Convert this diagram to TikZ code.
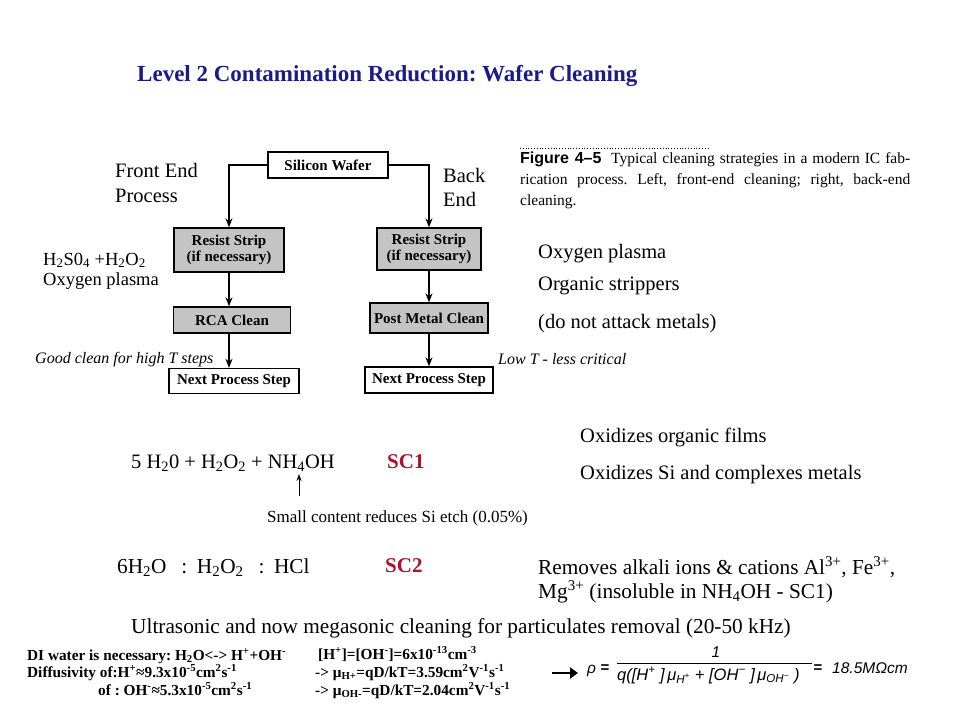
\documentclass[tikz,border=0pt]{standalone}
\usepackage{fontspec}
\setmainfont{Liberation Serif}
\newfontfamily\arialf{Liberation Sans}
\usetikzlibrary{arrows.meta}
\definecolor{titleblue}{RGB}{26,26,140}
\definecolor{scred}{RGB}{176,16,40}
\definecolor{boxgray}{RGB}{196,196,196}
\newcommand\fsz[2]{\fontsize{#1}{#2}\selectfont}
\frenchspacing
\begin{document}
\begin{tikzpicture}[x=1pt,y=-1pt,
  txt/.style={anchor=base west, inner sep=0pt},
  box/.style={draw, line width=1.3pt, inner sep=2pt, align=center, font=\fsz{15}{16}\bfseries},
  wbox/.style={box, fill=white},
  gbox/.style={box, fill=boxgray},
  arr/.style={line width=1.5pt, -{Stealth[length=9pt,width=7pt]}},
  big/.style={txt, font=\fsz{20.5}{24}},
  large/.style={txt, font=\fsz{21.3}{24}},
  mid/.style={txt, font=\fsz{18.5}{22}},
  bot/.style={txt, font=\fsz{15.3}{17}\bfseries},
  sc/.style={txt, font=\fsz{21}{24}\bfseries, text=scred},
  note/.style={txt, font=\fsz{16}{18}\itshape},
  frm/.style={inner sep=0pt, font=\arialf\itshape\fsz{15.5}{18}}]
\useasboundingbox (0,0) rectangle (960,720);
\fill[white] (0,0) rectangle (960,720);

% title
\node[txt, font=\fsz{23}{26}\bfseries, text=titleblue] (title) at (137,81) {Level 2 Contamination Reduction: Wafer Cleaning};

% flowchart
\node[wbox, minimum width=120pt, minimum height=26pt] (sw) at (328,165) {Silicon Wafer};
\node[gbox, minimum width=110pt, minimum height=44pt] (lrs) at (229,250) {Resist Strip\\(if necessary)};
\node[gbox, minimum width=104pt, minimum height=42pt] (rrs) at (429,249) {Resist Strip\\(if necessary)};
\node[gbox, minimum width=117pt, minimum height=26pt] (rca) at (232,320) {RCA Clean};
\node[gbox, minimum width=118pt, minimum height=30pt] (pmc) at (429,318) {Post Metal Clean};
\node[wbox, minimum width=130pt, minimum height=25pt] (lnx) at (234,381) {Next Process Step};
\node[wbox, minimum width=128pt, minimum height=26pt] (rnx) at (429,380) {Next Process Step};

\draw[arr] (sw.west) -| (lrs.north);
\draw[arr] (lrs.south) -- (lrs.south |- rca.north);
\draw[arr] (rca.south -| lrs.south) -- (lnx.north -| lrs.south);
\draw[arr] (sw.east) -| (rrs.north);
\draw[arr] (rrs.south) -- (pmc.north);
\draw[arr] (pmc.south) -- (rnx.north);

% labels around flowchart
\node[big] (fe1) at (115,177) {Front End};
\node[big] (fe2) at (115,202) {Process};
\node[big] (be1) at (443,182) {Back};
\node[big] (be2) at (443,206) {End};
\node[mid] (hs) at (43,265) {H\textsubscript{2}S0\textsubscript{4} +H\textsubscript{2}O\textsubscript{2}};
\node[mid] (op1) at (43,285) {Oxygen plasma};
\node[note] (gc) at (35,363) {Good clean for high T steps};
\node[note] (lt) at (498,364) {Low T - less critical};

% figure caption
\draw[line width=0.8pt, dotted] (520,148) -- (710,148);
\node[anchor=north west, inner sep=0pt, text width=390pt, align=justify, font=\fsz{15.5}{21}] (cap) at (520,152)
  {{\arialf\bfseries\fsz{16}{21}Figure 4–5}\hspace{0.3em} Typical cleaning strategies in a modern IC fab-\linebreak rication process. Left, front-end cleaning; right, back-end\linebreak cleaning.};

\node[big] (op2) at (538,258) {Oxygen plasma};
\node[big] (os) at (538,290) {Organic strippers};
\node[big] (dn) at (538,328) {(do not attack metals)};

% SC1
\node[big] (of) at (580,442) {Oxidizes organic films};
\node[big] (osi) at (580,479) {Oxidizes Si and complexes metals};
\node[big] (sc1eq) at (131,468) {5 H\textsubscript{2}0 + H\textsubscript{2}O\textsubscript{2} + NH\textsubscript{4}OH};
\node[sc] (sc1) at (387,468) {SC1};
\node[txt, font=\fsz{17}{20}] (small) at (267,522) {Small content reduces Si etch (0.05\%)};
\coordinate (arrfoot) at (299,496);
\coordinate (arrtip) at (299,474);
\draw[line width=0.9pt, -{Stealth[length=7pt,width=5pt]}] (arrfoot) -- (arrtip);

% SC2
\node[large] (sc2eq) at (117,573) {6H\textsubscript{2}O\hspace{0.45em} : \hspace{0.2em}H\textsubscript{2}O\textsubscript{2}\hspace{0.45em} : \hspace{0.2em}HCl};
\node[sc] (sc2) at (385,572) {SC2};
\node[large] (rm1) at (538,574) {Removes alkali ions \& cations Al\textsuperscript{3+}, Fe\textsuperscript{3+},};
\node[large] (rm2) at (538,598) {Mg\textsuperscript{3+} (insoluble in NH\textsubscript{4}OH - SC1)};

\node[large] (ultra) at (131,633) {Ultrasonic and now megasonic cleaning for particulates removal (20-50 kHz)};

% bottom block
\node[bot] (di) at (27,660) {DI water is necessary: H\textsubscript{2}O<-> H\textsuperscript{+}+OH\textsuperscript{-}};
\node[bot] (hc) at (318,659) {[H\textsuperscript{+}]=[OH\textsuperscript{-}]=6x10\textsuperscript{-13}cm\textsuperscript{-3}};
\node[bot] (df) at (27,677) {Diffusivity of:H\textsuperscript{+}≈9.3x10\textsuperscript{-5}cm\textsuperscript{2}s\textsuperscript{-1}};
\node[bot] (mh) at (315,677) {-> μ\textsubscript{H+}=qD/kT=3.59cm\textsuperscript{2}V\textsuperscript{-1}s\textsuperscript{-1}};
\node[bot] (dfo) at (98,695) {of : OH\textsuperscript{-}≈5.3x10\textsuperscript{-5}cm\textsuperscript{2}s\textsuperscript{-1}};
\node[bot] (mo) at (315,695) {-> μ\textsubscript{OH-}=qD/kT=2.04cm\textsuperscript{2}V\textsuperscript{-1}s\textsuperscript{-1}};

% resistivity formula
\coordinate (fa) at (552,673);
\coordinate (fb) at (578,673);
\draw[line width=2.6pt, -{Triangle[length=8pt,width=11pt]}] (fa) -- (fb);
\node[frm, anchor=base west] (rho) at (587,673) {ρ};
\node[frm, font=\arialf\bfseries\fsz{15}{18}] (eq1) at (605,669) {=};
\coordinate (fl1) at (617,663);
\coordinate (fl2) at (812,663);
\draw[line width=0.8pt] (fl1) -- (fl2);
\node[frm] (one) at (716,652) {1};
\node[frm, anchor=base west, font=\arialf\itshape\fsz{16.5}{18}] (den) at (617,680) {q([H\textsuperscript{+} ]\hspace{0.15em}μ\textsubscript{H\textsuperscript{+}} + [OH\textsuperscript{−} ]\hspace{0.15em}μ\textsubscript{OH\textsuperscript{−}} )};
\node[frm, font=\arialf\bfseries\fsz{15}{18}] (eq2) at (818,669) {=};
\node[frm, anchor=base west] (res) at (832,673) {18.5MΩcm};
\end{tikzpicture}
\end{document}
